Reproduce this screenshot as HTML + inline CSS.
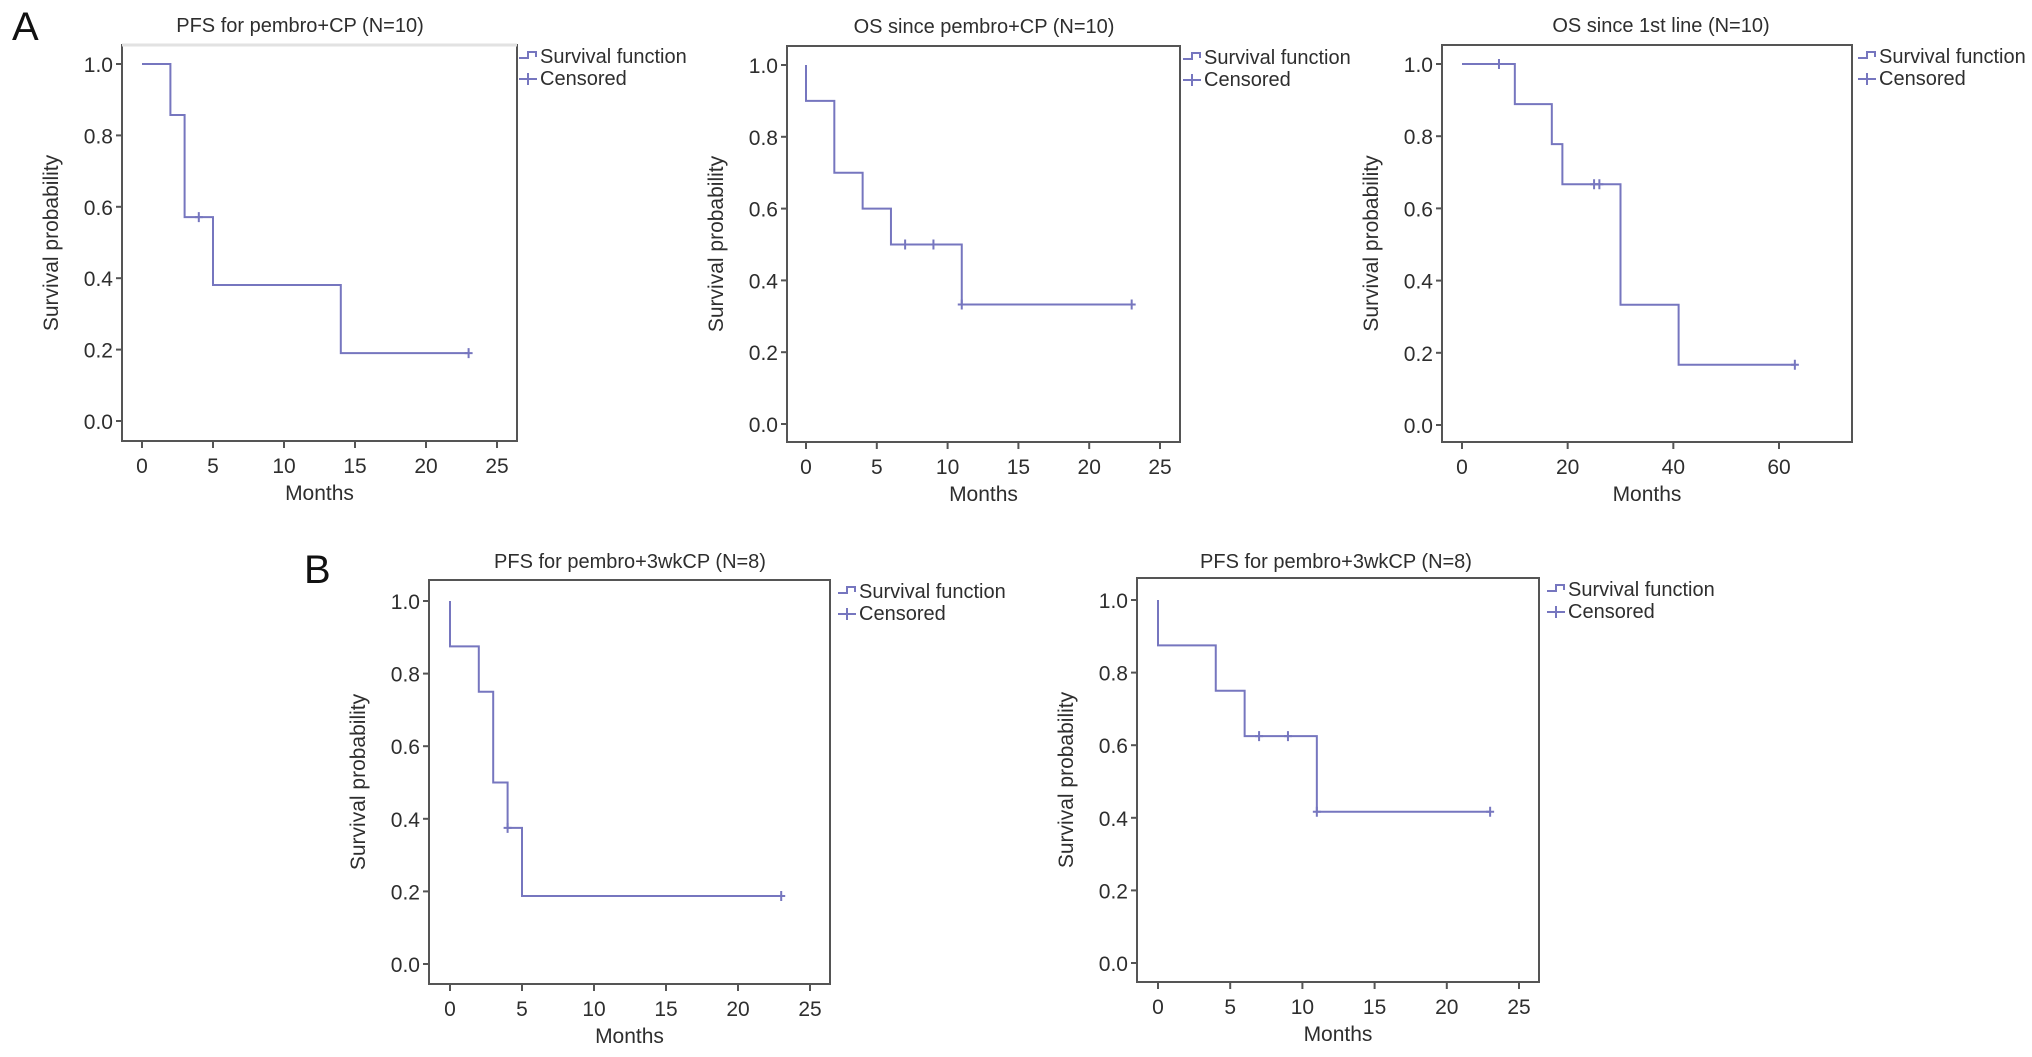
<!DOCTYPE html>
<html><head><meta charset="utf-8"><style>
html,body{margin:0;padding:0;background:#fff;}
svg{display:block;font-family:"Liberation Sans",Arial,sans-serif;}
</style></head><body>
<svg id="fig" width="2032" height="1057" viewBox="0 0 2032 1057" xmlns="http://www.w3.org/2000/svg">
<text x="12" y="40" font-size="40" fill="#111">A</text>
<text x="304" y="583" font-size="40" fill="#111">B</text>
</svg>
<script>
// ---- data ----
const a1Times = [2, 3, 5, 14];
const a1Surv = [0.857, 0.571, 0.381, 0.190];
const a1CensT = [4, 23];
const a1CensS = [0.571, 0.190];
const a1End = 23;

const a2Times = [0, 2, 4, 6, 11];
const a2Surv = [0.9, 0.7, 0.6, 0.5, 0.333];
const a2CensT = [7, 9, 11, 23];
const a2CensS = [0.5, 0.5, 0.333, 0.333];
const a2End = 23;

const a3Times = [10, 17, 19, 30, 41];
const a3Surv = [0.889, 0.778, 0.667, 0.333, 0.167];
const a3CensT = [7, 25, 26, 63];
const a3CensS = [1.0, 0.667, 0.667, 0.167];
const a3End = 63;

const b1Times = [0, 2, 3, 4, 5];
const b1Surv = [0.875, 0.75, 0.5, 0.375, 0.1875];
const b1CensT = [4, 23];
const b1CensS = [0.375, 0.1875];
const b1End = 23;

const b2Times = [0, 4, 6, 11];
const b2Surv = [0.875, 0.75, 0.625, 0.4167];
const b2CensT = [7, 9, 11, 23];
const b2CensS = [0.625, 0.625, 0.4167, 0.4167];
const b2End = 23;

const yTicks = [0, 0.2, 0.4, 0.6, 0.8, 1.0];
const yTickLabels = ["0.0", "0.2", "0.4", "0.6", "0.8", "1.0"];
const xTicks25 = [0, 5, 10, 15, 20, 25];
const xTicks60 = [0, 20, 40, 60];

const NS = "http://www.w3.org/2000/svg";
const svg = document.getElementById('fig');
const LINE = "#7676bf", AX = "#555", TXT = "#2e2e2e";

function mk(tag, attrs, parent) {
  const e = document.createElementNS(NS, tag);
  for (const k in attrs) e.setAttribute(k, attrs[k]);
  parent.appendChild(e);
  return e;
}

function panel(cfg) {
  const g = mk('g', {}, svg);
  
  
  const sx = v => cfg.x0 + (v - 0) * (cfg.xMaxPx - cfg.x0) / cfg.xMaxV;
  const sy = v => cfg.y0 + (cfg.y1 - cfg.y0) * v;
  const box = mk('rect', {x: cfg.L, y: cfg.T, width: cfg.R - cfg.L, height: cfg.B - cfg.T, fill: 'none', stroke: AX, 'stroke-width': 2}, g);
  
  
  if (cfg.lightTop) {
    const tl = mk('line', {x1: cfg.L, x2: cfg.R, y1: cfg.T, y2: cfg.T, stroke: '#e2e2e2', 'stroke-width': 3}, g);
    
    
  }
  const t = mk('text', {x: cfg.tx, y: cfg.ty, 'font-size': 20, fill: TXT, 'text-anchor': 'middle'}, g);
  t.textContent = cfg.title;
  
  
  yTicks.forEach((v, i) => {
    const y = sy(v);
    const tk = mk('line', {x1: cfg.L - 6, x2: cfg.L, y1: y, y2: y, stroke: AX, 'stroke-width': 2}, g);
    
    
    const lb = mk('text', {x: cfg.L - 9, y: y + 8, 'font-size': 21, fill: TXT, 'text-anchor': 'end'}, g);
    lb.textContent = yTickLabels[i];
    
    
  });
  cfg.xTicks.forEach(v => {
    const x = sx(v);
    const tk = mk('line', {x1: x, x2: x, y1: cfg.B, y2: cfg.B + 7, stroke: AX, 'stroke-width': 2}, g);
    
    
    const lb = mk('text', {x: x, y: cfg.B + 32, 'font-size': 21, fill: TXT, 'text-anchor': 'middle'}, g);
    lb.textContent = String(v);
    
    
  });
  const xt = mk('text', {x: (cfg.L + cfg.R) / 2, y: cfg.B + 59, 'font-size': 21, fill: TXT, 'text-anchor': 'middle'}, g);
  xt.textContent = 'Months';
  
  
  const yx = cfg.L - 64, yy = (cfg.T + cfg.B) / 2;
  const yt = mk('text', {x: yx, y: yy, 'font-size': 21, fill: TXT, 'text-anchor': 'middle', transform: `rotate(-90 ${yx} ${yy})`}, g);
  yt.textContent = 'Survival probability';
  
  
  let d = `M${sx(0)},${sy(1)}`;
  let cur = 1;
  cfg.times.forEach((tm, i) => {
    d += ` L${sx(tm)},${sy(cur)} L${sx(tm)},${sy(cfg.surv[i])}`;
    cur = cfg.surv[i];
  });
  d += ` L${sx(cfg.end)},${sy(cur)}`;
  const p = mk('path', {d: d, fill: 'none', stroke: LINE, 'stroke-width': 2}, g);
  
  
  cfg.censT.forEach((tm, i) => {
    const x = sx(tm), y = sy(cfg.censS[i]);
    const c = mk('path', {d: `M${x},${y - 5} L${x},${y + 5} M${x - 4},${y} L${x + 4},${y}`, stroke: LINE, 'stroke-width': 2, fill: 'none'}, g);
    
    
  });
  const lx = cfg.legX, ly = cfg.T;
  const l1 = mk('path', {d: `M${lx - 24},${ly + 13} L${lx - 15},${ly + 13} L${lx - 15},${ly + 7} L${lx - 7},${ly + 7} L${lx - 7},${ly + 12}`, stroke: LINE, 'stroke-width': 2, fill: 'none'}, g);
  
  
  const lt1 = mk('text', {x: lx - 3, y: ly + 18, 'font-size': 20, fill: TXT}, g);
  lt1.textContent = 'Survival function';
  
  
  const l2 = mk('path', {d: `M${lx - 24},${ly + 34} L${lx - 6},${ly + 34} M${lx - 15},${ly + 28} L${lx - 15},${ly + 40}`, stroke: LINE, 'stroke-width': 2, fill: 'none'}, g);
  
  
  const lt2 = mk('text', {x: lx - 3, y: ly + 40, 'font-size': 20, fill: TXT}, g);
  lt2.textContent = 'Censored';
  
  
}

panel({name: 'chart-pfs-pembro-cp', title: 'PFS for pembro+CP (N=10)', L: 122, R: 517, T: 45, B: 441,
  x0: 142, xMaxPx: 497, xMaxV: 25, y0: 421, y1: 64, tx: 300, ty: 32, legX: 543, lightTop: true,
  xTicks: xTicks25, times: a1Times, surv: a1Surv, censT: a1CensT, censS: a1CensS, end: a1End});
panel({name: 'chart-os-pembro-cp', title: 'OS since pembro+CP (N=10)', L: 787, R: 1180, T: 46, B: 442,
  x0: 806, xMaxPx: 1160, xMaxV: 25, y0: 424, y1: 65, tx: 984, ty: 33, legX: 1207,
  xTicks: xTicks25, times: a2Times, surv: a2Surv, censT: a2CensT, censS: a2CensS, end: a2End});
panel({name: 'chart-os-first-line', title: 'OS since 1st line (N=10)', L: 1442, R: 1852, T: 45, B: 442,
  x0: 1462, xMaxPx: 1779, xMaxV: 60, y0: 425, y1: 64, tx: 1661, ty: 32, legX: 1882,
  xTicks: xTicks60, times: a3Times, surv: a3Surv, censT: a3CensT, censS: a3CensS, end: a3End});
panel({name: 'chart-pfs-3wkcp-1', title: 'PFS for pembro+3wkCP (N=8)', L: 429, R: 830, T: 580, B: 984,
  x0: 450, xMaxPx: 810, xMaxV: 25, y0: 964, y1: 601, tx: 630, ty: 568, legX: 862,
  xTicks: xTicks25, times: b1Times, surv: b1Surv, censT: b1CensT, censS: b1CensS, end: b1End});
panel({name: 'chart-pfs-3wkcp-2', title: 'PFS for pembro+3wkCP (N=8)', L: 1137, R: 1539, T: 578, B: 982,
  x0: 1158, xMaxPx: 1519, xMaxV: 25, y0: 963, y1: 600, tx: 1336, ty: 568, legX: 1571,
  xTicks: xTicks25, times: b2Times, surv: b2Surv, censT: b2CensT, censS: b2CensS, end: b2End});
</script>
</body></html>
